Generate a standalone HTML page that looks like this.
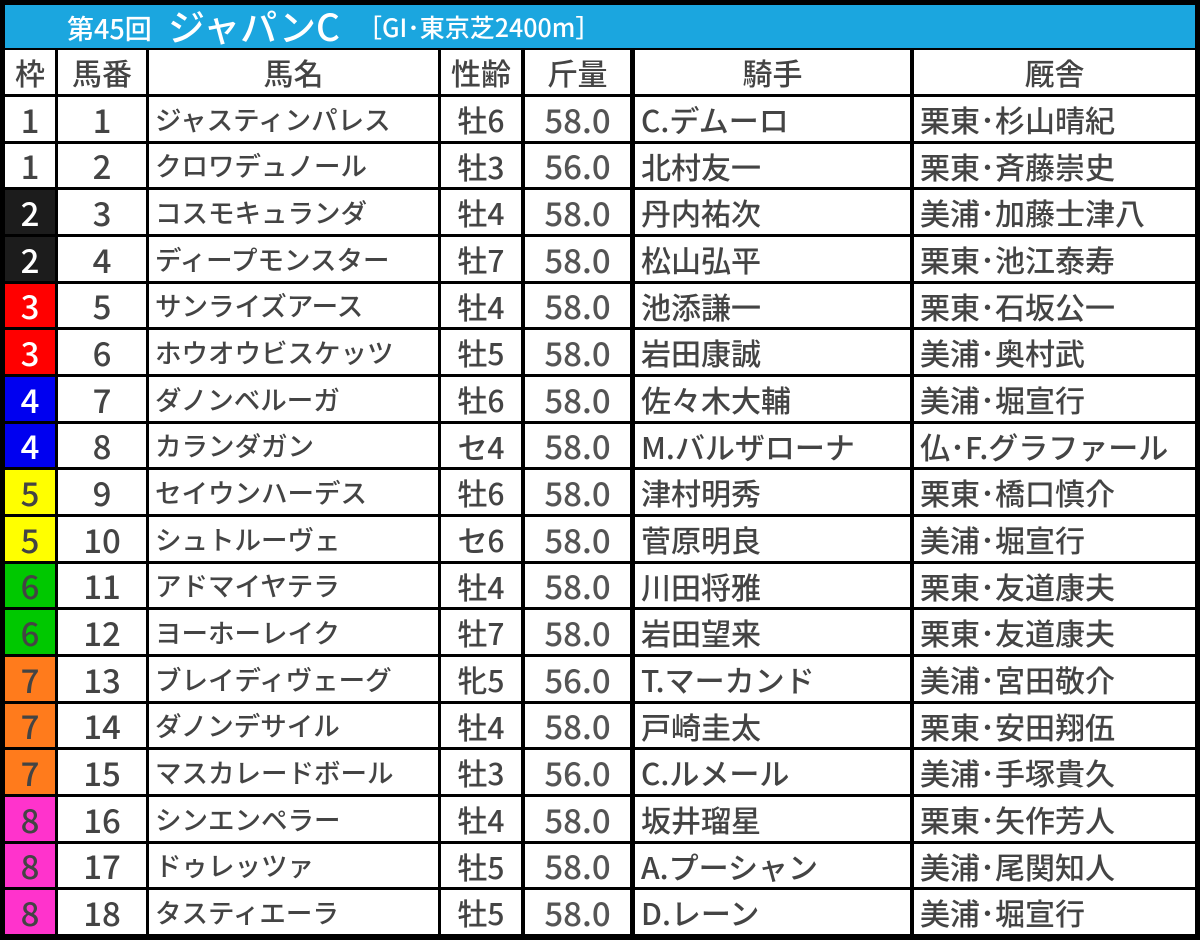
<!DOCTYPE html>
<html><head><meta charset="utf-8"><style>
body{margin:0;width:1200px;height:940px;background:#000;position:relative;overflow:hidden;font-family:"Noto Sans CJK JP","Liberation Sans",sans-serif;}
.t{position:absolute;left:5px;top:5px;width:1190px;height:43px;background:#1ba6df;color:#fff;}
.t span{position:absolute;line-height:1;font-weight:500;}
.c{position:absolute;background:#fff;color:#444;font-size:30px;display:flex;align-items:center;justify-content:center;white-space:nowrap;overflow:hidden;line-height:1;font-weight:500;}
.n{font-size:33px;}
.l{justify-content:flex-start;padding-left:6px;box-sizing:border-box;}
.nm{font-size:26.5px;}
</style></head><body>
<div class="t"><span style="left:62px;top:9px;font-size:27px;">第45回</span><span style="left:163px;top:2px;font-size:37px;">ジャパンC</span><span style="left:352px;top:10px;font-size:25px;">［GI･東京芝2400m］</span></div>
<div id="g"></div>
<script>
const cols=[[5,50],[58,88],[149,289],[441,80],[525,105],[635,275],[914,281]];
const hdr=["枠","馬番","馬名","性齢","斤量","騎手","厩舎"];
const data=[
[1,1,"ジャスティンパレス","牡6","58.0","C.デムーロ","栗東･杉山晴紀"],
[1,2,"クロワデュノール","牡3","56.0","北村友一","栗東･斉藤崇史"],
[2,3,"コスモキュランダ","牡4","58.0","丹内祐次","美浦･加藤士津八"],
[2,4,"ディープモンスター","牡7","58.0","松山弘平","栗東･池江泰寿"],
[3,5,"サンライズアース","牡4","58.0","池添謙一","栗東･石坂公一"],
[3,6,"ホウオウビスケッツ","牡5","58.0","岩田康誠","美浦･奥村武"],
[4,7,"ダノンベルーガ","牡6","58.0","佐々木大輔","美浦･堀宣行"],
[4,8,"カランダガン","セ4","58.0","M.バルザローナ","仏･F.グラファール"],
[5,9,"セイウンハーデス","牡6","58.0","津村明秀","栗東･橋口慎介"],
[5,10,"シュトルーヴェ","セ6","58.0","菅原明良","美浦･堀宣行"],
[6,11,"アドマイヤテラ","牡4","58.0","川田将雅","栗東･友道康夫"],
[6,12,"ヨーホーレイク","牡7","58.0","岩田望来","栗東･友道康夫"],
[7,13,"ブレイディヴェーグ","牝5","56.0","T.マーカンド","美浦･宮田敬介"],
[7,14,"ダノンデサイル","牡4","58.0","戸崎圭太","栗東･安田翔伍"],
[7,15,"マスカレードボール","牡3","56.0","C.ルメール","美浦･手塚貴久"],
[8,16,"シンエンペラー","牡4","58.0","坂井瑠星","栗東･矢作芳人"],
[8,17,"ドゥレッツァ","牡5","58.0","A.プーシャン","美浦･尾関知人"],
[8,18,"タスティエーラ","牡5","58.0","D.レーン","美浦･堀宣行"]];
const fc={1:["#fff","#444"],2:["#1c1c1c","#fff"],3:["#f00","#fff"],4:["#0000f0","#fff"],5:["#ffff00","#444"],6:["#00c800","#444"],7:["#ff7b1c","#444"],8:["#ff33cc","#444"]};
let h="";
function cell(x,w,y,ht,txt,cls,bg,fg){h+=`<div class="c ${cls}" style="left:${x}px;top:${y}px;width:${w}px;height:${ht}px;${bg?'background:'+bg+';':''}${fg?'color:'+fg+';':''}">${txt}</div>`;}
cols.forEach((c,i)=>cell(c[0],c[1],50,44,hdr[i],""));
data.forEach((r,i)=>{
 const y=Math.round(97+i*46.67), ht=Math.round(97+(i+1)*46.67)-y-3;
 cols.forEach((c,j)=>{
  if(j==0)cell(c[0],c[1],y,ht,r[0],"n",fc[r[0]][0],fc[r[0]][1]);
  else if(j==1)cell(c[0],c[1],y,ht,r[1],"n");
  else if(j==2)cell(c[0],c[1],y,ht,r[2],"l nm");
  else if(j==3)cell(c[0],c[1],y,ht,r[3],"");
  else if(j==4)cell(c[0],c[1],y,ht,r[4],"n",null,"#555");
  else cell(c[0],c[1],y,ht,r[j],"l");
 });
});
document.getElementById("g").outerHTML=h;
</script>
</body></html>
